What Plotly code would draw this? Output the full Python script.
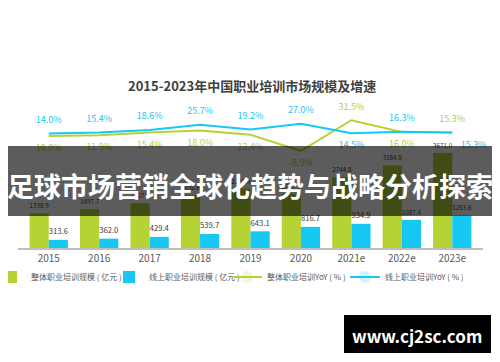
import plotly.graph_objects as go

# ---------------- data ----------------
categories = ["2015", "2016", "2017", "2018", "2019", "2020", "2021e", "2022e", "2023e"]
total_size = [1338.9, 1497.7, 1727.5, 2038.6, 2291.3, 2087.2, 2744.8, 3184.8, 3671.0]
online_size = [313.6, 362.0, 429.4, 539.7, 643.1, 816.7, 934.9, 1087.4, 1253.6]
total_yoy = [10.8, 11.9, 15.4, 18.0, 12.4, -8.9, 31.5, 16.0, 15.3]
online_yoy = [14.0, 15.4, 18.6, 25.7, 19.2, 27.0, 14.5, 16.3, 15.3]

series_names = ["整体职业培训规模 ( 亿元 )", "线上职业培训规模 ( 亿元 )",
                "整体职业培训YoY ( % )", "线上职业培训YoY ( % )"]
title_text = "2015-2023年中国职业培训市场规模及增速"
banner_text = "足球市场营销全球化趋势与战略分析探索"
watermark_text = "www.cj2sc.com"

# ---------------- layout helpers ----------------
# The page body has an 8px margin, so the figure is drawn 8px in from the
# window's top-left corner; screen-space targets are converted below.
W, H = 492, 354
L, R, T, B = 10, 17, 52, 114
PLOT_X0, PLOT_X1 = 18, 483      # screen px
PLOT_Y0, PLOT_Y1 = 60, 248      # screen px (top, bottom)


def px_x(px):
    return (px - PLOT_X0) / (PLOT_X1 - PLOT_X0)


def px_y(py):
    return (PLOT_Y1 - py) / (PLOT_Y1 - PLOT_Y0)


GREEN = "#b5d334"
BLUE = "#17c8f2"
FONT = "Noto Sans CJK SC, Noto Sans, sans-serif"

total_pos = ["bottom center"] * 6 + ["top center", "bottom center", "top center"]
online_pos = ["top center"] * 6 + ["bottom center", "top center", "bottom right"]

fig = go.Figure()
fig.add_trace(go.Bar(
    x=categories, y=total_size, name=series_names[0],
    marker=dict(color=GREEN, line=dict(width=0)),
    text=[f"{v:.1f}" for v in total_size], textposition="outside",
    textfont=dict(size=9, color="#404040", family=FONT), cliponaxis=False,
))
fig.add_trace(go.Bar(
    x=categories, y=online_size, name=series_names[1],
    marker=dict(color=BLUE, line=dict(width=0)),
    text=[f"{v:.1f}" for v in online_size], textposition="outside",
    textfont=dict(size=9, color="#404040", family=FONT), cliponaxis=False,
))
fig.add_trace(go.Scatter(
    x=categories, y=total_yoy, name=series_names[2], yaxis="y2",
    mode="lines+markers+text", line=dict(color=GREEN, width=2),
    marker=dict(size=12, opacity=0, color=GREEN),
    text=[f"{v:.1f}%" for v in total_yoy], textposition=total_pos,
    textfont=dict(size=9, color=GREEN, family=FONT), cliponaxis=False,
))
fig.add_trace(go.Scatter(
    x=categories, y=online_yoy, name=series_names[3], yaxis="y2",
    mode="lines+markers+text", line=dict(color=BLUE, width=2),
    marker=dict(size=12, opacity=0, color=BLUE),
    text=[f"{v:.1f}%" for v in online_yoy], textposition=online_pos,
    textfont=dict(size=9, color=BLUE, family=FONT), cliponaxis=False,
))

fig.update_layout(
    width=W, height=H,
    margin=dict(l=L, r=R, t=T, b=B, autoexpand=False),
    paper_bgcolor="white", plot_bgcolor="white",
    font=dict(family=FONT, color="#595959"),
    barmode="group", bargap=0.24, bargroupgap=0,
    showlegend=True,
    legend=dict(orientation="h", x=px_x(-9), xanchor="left",
                y=px_y(277), yanchor="middle",
                font=dict(size=8, color="#595959", family=FONT),
                bgcolor="rgba(0,0,0,0)", itemwidth=30, traceorder="normal",
                entrywidth=73, entrywidthmode="pixels"),
    xaxis=dict(showline=True, linecolor="#bfbfbf", linewidth=2, ticks="",
               showgrid=False, tickfont=dict(size=10, color="#595959")),
    yaxis=dict(visible=False, range=[0, 7259], showgrid=False),
    yaxis2=dict(visible=False, overlaying="y", range=[-136.6, 110.8], showgrid=False),
    shapes=[
        dict(type="rect", xref="paper", yref="paper", layer="above",
             x0=px_x(7), x1=px_x(501), y0=px_y(216), y1=px_y(146),
             fillcolor="rgba(0,0,0,0.64)", line=dict(width=0)),
        dict(type="rect", xref="paper", yref="paper", layer="above",
             x0=px_x(344), x1=px_x(491), y0=px_y(353), y1=px_y(315),
             fillcolor="black", line=dict(width=0)),
    ],
    annotations=[
        dict(text=f"<b>{title_text}</b>", xref="paper", yref="paper",
             x=px_x(252), y=px_y(85), xanchor="center", yanchor="middle",
             showarrow=False, font=dict(size=13, color="#404040", family=FONT)),
        dict(text=f"<b>{banner_text}</b>", xref="paper", yref="paper",
             x=px_x(250), y=px_y(185), xanchor="center", yanchor="middle",
             showarrow=False, font=dict(size=27, color="white", family=FONT)),
        dict(text=f"<b>{watermark_text}</b>", xref="paper", yref="paper",
             x=px_x(417), y=px_y(335), xanchor="center", yanchor="middle",
             showarrow=False, font=dict(size=17, color="white", family=FONT)),
    ],
)

fig.write_html("out.html")
